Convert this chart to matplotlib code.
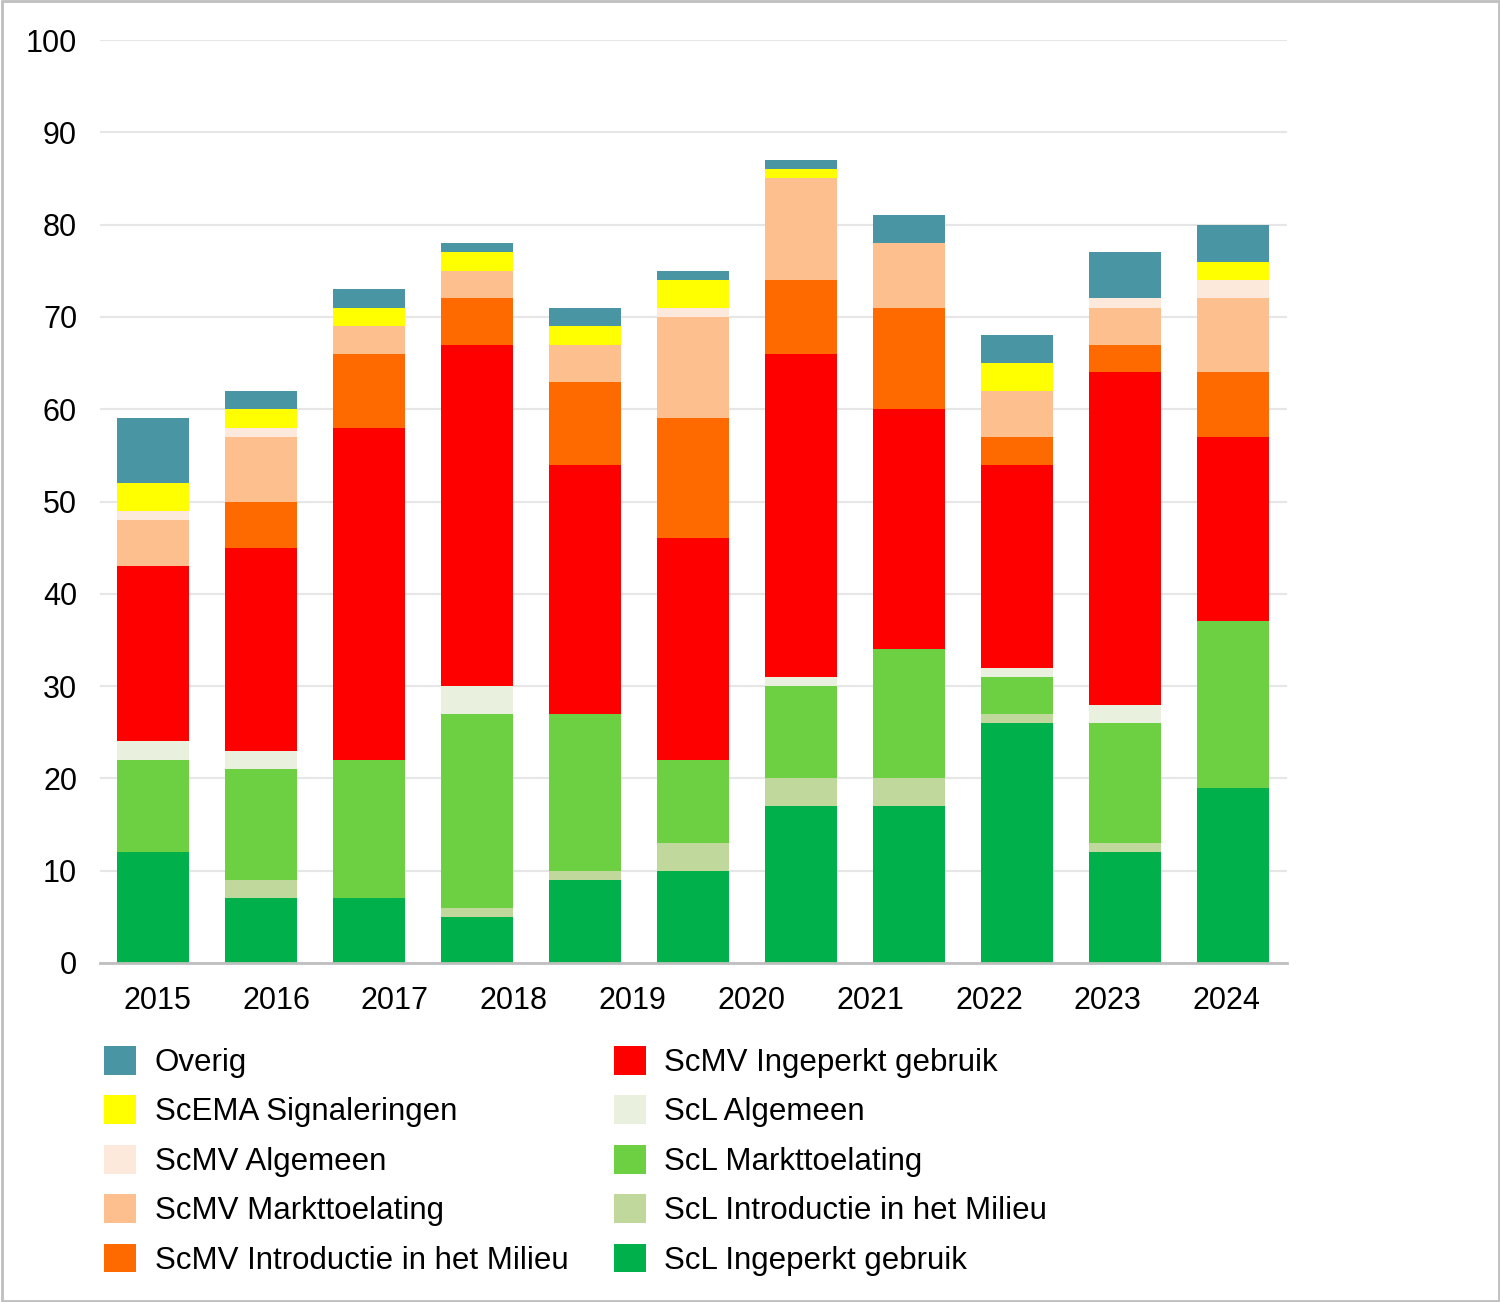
import numpy as np
import matplotlib.pyplot as plt

plt.rcParams['font.family'] = ['Liberation Sans', 'DejaVu Sans']

# 11 staven, maar 10 jaarlabels (zoals in het origineel)
bars = list(range(11))
years = ['2015', '2016', '2017', '2018', '2019', '2020', '2021', '2022', '2023', '2024']

# stapelvolgorde van onder naar boven
scl_ingeperkt = [12, 7, 7, 5, 9, 10, 17, 17, 26, 12, 19]
scl_intro = [0, 2, 0, 1, 1, 3, 3, 3, 1, 1, 0]
scl_markt = [10, 12, 15, 21, 17, 9, 10, 14, 4, 13, 18]
scl_alg = [2, 2, 0, 3, 0, 0, 1, 0, 1, 2, 0]
scmv_ingeperkt = [19, 22, 36, 37, 27, 24, 35, 26, 22, 36, 20]
scmv_intro = [0, 5, 8, 5, 9, 13, 8, 11, 3, 3, 7]
scmv_markt = [5, 7, 3, 3, 4, 11, 11, 7, 5, 4, 8]
scmv_alg = [1, 1, 0, 0, 0, 1, 0, 0, 0, 1, 2]
scema = [3, 2, 2, 2, 2, 3, 1, 0, 3, 0, 2]
overig = [7, 2, 2, 1, 2, 1, 1, 3, 3, 5, 4]

series = [
    ('ScL Ingeperkt gebruik', scl_ingeperkt, '#00b04a'),
    ('ScL Introductie in het Milieu', scl_intro, '#c0d89c'),
    ('ScL Markttoelating', scl_markt, '#6dd042'),
    ('ScL Algemeen', scl_alg, '#e9f0dd'),
    ('ScMV Ingeperkt gebruik', scmv_ingeperkt, '#ff0000'),
    ('ScMV Introductie in het Milieu', scmv_intro, '#ff6a00'),
    ('ScMV Markttoelating', scmv_markt, '#fdbf8e'),
    ('ScMV Algemeen', scmv_alg, '#fde9db'),
    ('ScEMA Signaleringen', scema, '#ffff00'),
    ('Overig', overig, '#4a95a4'),
]

fig = plt.figure(figsize=(15, 13.02), dpi=100)
ax = fig.add_axes([100/1500, 1 - 963/1302, 1187/1500, 923/1302])

bottom = np.zeros(len(bars))
handles = []
for name, vals, col in series:
    b = ax.bar(bars, vals, bottom=bottom, width=0.667, color=col, label=name, zorder=3)
    bottom += np.array(vals)
    handles.append(b)

ax.set_ylim(0, 100)
ax.set_xlim(-0.49, 10.5)
ax.set_yticks(range(0, 101, 10))
ax.set_xticks(np.linspace(0.04, 9.94, 10))
ax.set_xticklabels(years)
ax.tick_params(axis='both', length=0, labelsize=22, colors='black')
ax.tick_params(axis='x', pad=16.5)
ax.tick_params(axis='y', pad=16.5)
ax.grid(axis='y', color='#e6e6e6', linewidth=1.5, zorder=0)
for s in ['top', 'right', 'left']:
    ax.spines[s].set_visible(False)
ax.spines['bottom'].set_color('#bfbfbf')
ax.spines['bottom'].set_linewidth(2)
ax.spines['bottom'].set_zorder(4)

h = handles[::-1]
labels = [s[0] for s in series][::-1]
fig.legend(h, labels, loc='upper left', bbox_to_anchor=(104/1500, 1 - 1046/1302),
           ncol=2, frameon=False, fontsize=22.5, handlelength=1.03, handleheight=1.03,
           handletextpad=0.6, labelspacing=0.56, columnspacing=1.44, borderpad=0,
           borderaxespad=0)

# rand om de figuur
fig.patches.append(plt.Rectangle((0.001, 0.001), 0.998, 0.998, transform=fig.transFigure,
                                 fill=False, edgecolor='#bfbfbf', linewidth=2))

fig.savefig('out.png', dpi=100)
